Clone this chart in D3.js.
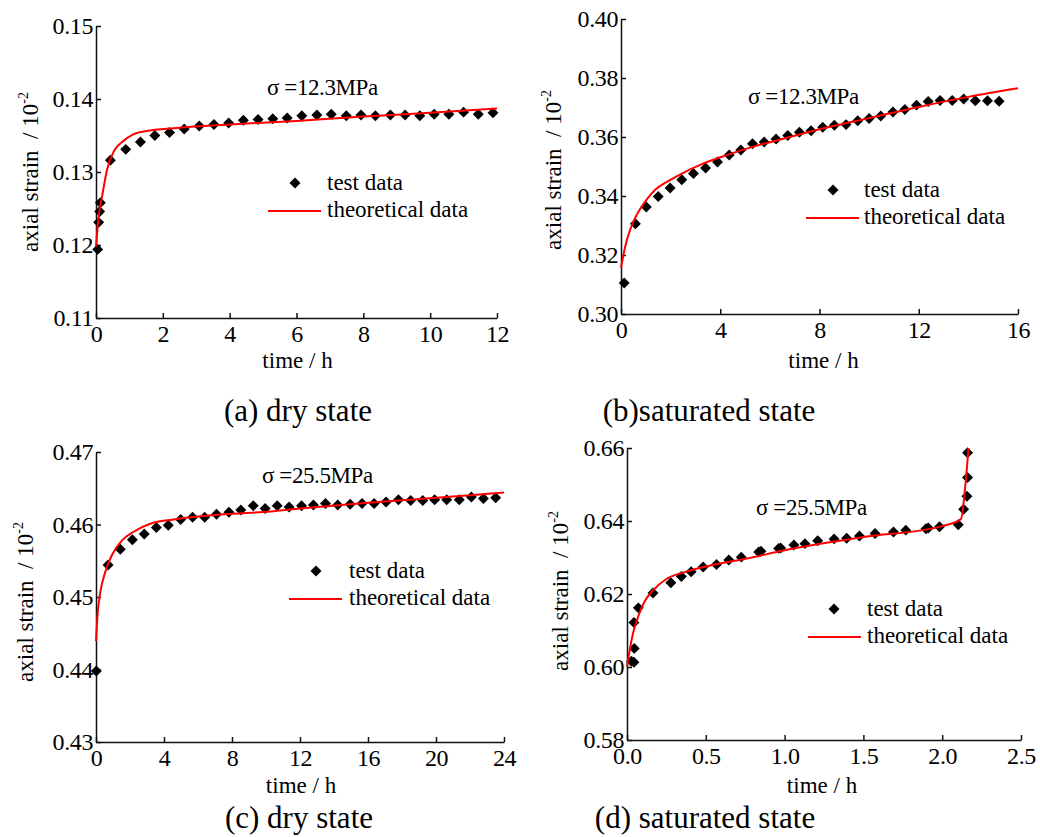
<!DOCTYPE html>
<html>
<head>
<meta charset="utf-8">
<script src="https://cdn.jsdelivr.net/npm/d3@7"></script>
<style>
body { margin: 0; background: #fff; }
</style>
</head>
<body>
<svg id="fig" width="1040" height="837"></svg>
<script>
// (a) dry state, 12.3MPa
var timeA = [0.05, 0.08, 0.11, 0.13, 0.43, 0.89, 1.33, 1.76, 2.20, 2.64, 3.09, 3.53, 3.97, 4.41, 4.85, 5.29, 5.72, 6.16, 6.61, 7.04, 7.49, 7.93, 8.36, 8.81, 9.25, 9.69, 10.12, 10.56, 11.00, 11.44, 11.88];
var strainA = [0.1194, 0.1231, 0.1246, 0.1258, 0.1316, 0.1331, 0.1341, 0.1350, 0.1354, 0.1359, 0.1363, 0.1365, 0.1367, 0.1371, 0.1372, 0.1373, 0.1374, 0.1377, 0.1378, 0.1379, 0.1377, 0.1378, 0.1377, 0.1378, 0.1378, 0.1377, 0.1379, 0.1379, 0.1382, 0.1379, 0.1381];
var fitTimeA = [0, 0.08, 0.18, 0.33, 0.53, 0.78, 1.13, 1.62, 2.32, 4.0, 6, 8, 10, 12];
var fitStrainA = [0.1198, 0.1239, 0.1266, 0.1303, 0.1328, 0.1341, 0.1352, 0.1357, 0.1360, 0.1365, 0.1370, 0.1376, 0.1381, 0.1387];
var xTicksA = [0, 2, 4, 6, 8, 10, 12];
var yTicksA = [0.11, 0.12, 0.13, 0.14, 0.15];

// (b) saturated state, 12.3MPa
var timeB = [0.13, 0.58, 1.02, 1.50, 1.98, 2.45, 2.92, 3.41, 3.89, 4.36, 4.83, 5.30, 5.77, 6.25, 6.72, 7.19, 7.66, 8.13, 8.60, 9.07, 9.54, 10.00, 10.47, 10.96, 11.44, 11.91, 12.38, 12.86, 13.35, 13.81, 14.28, 14.77, 15.24];
var strainB = [0.3105, 0.3306, 0.3363, 0.3398, 0.3427, 0.3455, 0.3476, 0.3495, 0.3515, 0.3539, 0.3556, 0.3577, 0.3583, 0.3593, 0.3605, 0.3616, 0.3621, 0.3633, 0.3640, 0.3642, 0.3655, 0.3663, 0.3671, 0.3685, 0.3693, 0.3708, 0.3720, 0.3724, 0.3724, 0.3729, 0.3723, 0.3723, 0.3721];
var fitTimeB = [0, 0.17, 0.37, 0.64, 0.98, 1.38, 1.92, 2.45, 3.26, 4.2, 5.4, 6.5, 8, 10, 12, 14, 16];
var fitStrainB = [0.3156, 0.3229, 0.3286, 0.3337, 0.3382, 0.3421, 0.3451, 0.3476, 0.3508, 0.3537, 0.3569, 0.3593, 0.3626, 0.3664, 0.3702, 0.3736, 0.3765];
var xTicksB = [0, 4, 8, 12, 16];
var yTicksB = [0.30, 0.32, 0.34, 0.36, 0.38, 0.40];

// (c) dry state, 25.5MPa
var timeC = [0.02, 0.71, 1.43, 2.14, 2.84, 3.55, 4.25, 4.98, 5.68, 6.39, 7.09, 7.82, 8.52, 9.25, 9.95, 10.66, 11.36, 12.09, 12.79, 13.50, 14.22, 14.95, 15.65, 16.36, 17.06, 17.79, 18.51, 19.22, 19.92, 20.63, 21.37, 22.08, 22.79, 23.51];
var strainC = [0.4398, 0.4544, 0.4566, 0.4579, 0.4587, 0.4596, 0.4599, 0.4607, 0.4610, 0.4610, 0.4614, 0.4617, 0.4620, 0.4626, 0.4622, 0.4626, 0.4624, 0.4626, 0.4627, 0.4629, 0.4627, 0.4628, 0.4629, 0.4629, 0.4631, 0.4634, 0.4633, 0.4633, 0.4634, 0.4634, 0.4634, 0.4638, 0.4636, 0.4637];
var fitTimeC = [0, 0.1, 0.25, 0.55, 0.94, 1.53, 2.21, 3.19, 4.56, 7.5, 10.25, 12, 16, 20, 24];
var fitStrainC = [0.4439, 0.4478, 0.4506, 0.4535, 0.4558, 0.4578, 0.4590, 0.4601, 0.4607, 0.4614, 0.4618, 0.4622, 0.4630, 0.4637, 0.4644];
var xTicksC = [0, 4, 8, 12, 16, 20, 24];
var yTicksC = [0.43, 0.44, 0.45, 0.46, 0.47];

// (d) saturated state, 25.5MPa
var timeD = [0.028, 0.044, 0.046, 0.044, 0.072, 0.165, 0.278, 0.345, 0.407, 0.483, 0.568, 0.646, 0.725, 0.836, 0.850, 0.962, 0.975, 1.059, 1.129, 1.210, 1.314, 1.394, 1.475, 1.574, 1.691, 1.769, 1.897, 1.912, 1.983, 2.102, 2.136, 2.157, 2.161, 2.161];
var strainD = [0.6016, 0.6013, 0.6051, 0.6122, 0.6162, 0.6203, 0.6231, 0.6248, 0.6261, 0.6274, 0.6281, 0.6293, 0.6301, 0.6315, 0.6317, 0.6325, 0.6326, 0.6334, 0.6338, 0.6346, 0.6351, 0.6353, 0.6359, 0.6366, 0.6370, 0.6375, 0.6379, 0.6381, 0.6384, 0.6390, 0.6432, 0.6468, 0.6519, 0.6587];
var fitTimeD = [0, 0.017, 0.038, 0.07, 0.11, 0.165, 0.25, 0.38, 0.55, 0.76, 1.0, 1.5, 2.0, 2.119, 2.146, 2.167];
var fitStrainD = [0.6001, 0.6046, 0.6092, 0.6137, 0.6178, 0.6210, 0.6241, 0.6262, 0.6280, 0.6297, 0.6320, 0.6356, 0.6386, 0.6405, 0.6493, 0.6600];
var xTicksD = [0, 0.5, 1.0, 1.5, 2.0, 2.5];
var yTicksD = [0.58, 0.60, 0.62, 0.64, 0.66];

var legendNames = ["test data", "theoretical data"];

var svg = d3.select("#fig")
	.attr("font-family", "Liberation Serif")
	.attr("fill", "#000");

// one panel; p holds the layout (pixel box + label spots)
function panel(p) {
	var g = svg.append("g");
	var x = d3.scaleLinear().domain(d3.extent(p.xTicks)).range([p.left, p.right]);
	var y = d3.scaleLinear().domain(d3.extent(p.yTicks)).range([p.bottom, p.top]);

	var xAxis = g.append("g")
		.attr("transform", "translate(0," + p.bottom + ")")
		.call(d3.axisBottom(x).tickValues(p.xTicks).tickFormat(d3.format(p.xFmt))
			.tickSizeInner(-5).tickSizeOuter(0).tickPadding(7));
	var yAxis = g.append("g")
		.attr("transform", "translate(" + p.left + ",0)")
		.call(d3.axisLeft(y).tickValues(p.yTicks).tickFormat(d3.format(".2f"))
			.tickSizeInner(-5).tickSizeOuter(0).tickPadding(3));
	[xAxis, yAxis].forEach(function(a) {
		a.attr("font-family", "Liberation Serif").attr("font-size", 24);
		a.select(".domain").attr("stroke", "#111").attr("stroke-width", 1.5);
		a.selectAll(".tick line").attr("stroke", "#111").attr("stroke-width", 1.5);
		a.selectAll(".tick text").attr("fill", "#000").attr("letter-spacing", "-0.4");
	});

	var diamond = d3.symbol().type(d3.symbolSquare).size(60);

	g.selectAll("path.pt")
		.data(d3.zip(p.time, p.strain))
	  .enter().append("path")
		.attr("class", "pt")
		.attr("d", diamond)
		.attr("transform", function(d) { return "translate(" + x(d[0]) + "," + y(d[1]) + ") rotate(45)"; })
		.attr("fill", "#000");

	var line = d3.line()
		.x(function(d) { return x(d[0]); })
		.y(function(d) { return y(d[1]); })
		.curve(d3.curveMonotoneX);
	g.append("path")
		.datum(d3.zip(p.fitTime, p.fitStrain))
		.attr("d", line)
		.attr("fill", "none")
		.attr("stroke", "#ff0000")
		.attr("stroke-width", 2);

	// stress label
	g.append("text")
		.attr("x", p.sigma[0]).attr("y", p.sigma[1])
		.attr("font-size", 23)
		.attr("letter-spacing", "-0.4")
		.text(p.sigmaText);

	// legend
	g.append("path")
		.attr("d", diamond)
		.attr("transform", "translate(" + p.leg[0] + "," + p.leg[1] + ") rotate(45)")
		.attr("fill", "#000");
	g.append("text")
		.attr("x", p.leg[2]).attr("y", p.leg[1] + 7)
		.attr("font-size", 23)
		.text(legendNames[0]);
	g.append("line")
		.attr("x1", p.leg[3]).attr("x2", p.leg[3] + 53)
		.attr("y1", p.leg[1] + 28).attr("y2", p.leg[1] + 28)
		.attr("stroke", "#ff0000").attr("stroke-width", 2);
	g.append("text")
		.attr("x", p.leg[2]).attr("y", p.leg[1] + 34)
		.attr("font-size", 23)
		.text(legendNames[1]);

	// axis titles
	g.append("text")
		.attr("x", (p.left + p.right) / 2 + p.xlab[0]).attr("y", p.xlab[1])
		.attr("text-anchor", "middle")
		.attr("font-size", 23)
		.text("time / h");

	var yl = g.append("text")
		.attr("transform", "translate(" + p.ylab[0] + "," + p.ylab[1] + ") rotate(-90)")
		.attr("text-anchor", "middle")
		.attr("font-size", 23)
		.attr("xml:space", "preserve")
		.style("white-space", "pre");
	yl.append("tspan").text("axial strain  / 10");
	yl.append("tspan").attr("dy", -10).attr("font-size", 14).text("-2");

	// caption
	g.append("text")
		.attr("x", p.cap[0]).attr("y", p.cap[1])
		.attr("text-anchor", "middle")
		.attr("font-size", 31)
		.text(p.capText);
}

panel({
	time: timeA, strain: strainA, fitTime: fitTimeA, fitStrain: fitStrainA,
	xTicks: xTicksA, yTicks: yTicksA, xFmt: "d",
	left: 96, right: 497, top: 26, bottom: 318,
	sigma: [267, 95], sigmaText: "\u03c3 =12.3MPa",
	leg: [295, 183, 327, 268],
	xlab: [1, 368], ylab: [38, 172],
	cap: [298, 421], capText: "(a) dry state"
});

panel({
	time: timeB, strain: strainB, fitTime: fitTimeB, fitStrain: fitStrainB,
	xTicks: xTicksB, yTicks: yTicksB, xFmt: "d",
	left: 621, right: 1018, top: 19, bottom: 314,
	sigma: [748, 104], sigmaText: "\u03c3 =12.3MPa",
	leg: [833, 190, 864, 806],
	xlab: [4, 368], ylab: [561, 170],
	cap: [709, 421], capText: "(b)saturated state"
});

panel({
	time: timeC, strain: strainC, fitTime: fitTimeC, fitStrain: fitStrainC,
	xTicks: xTicksC, yTicks: yTicksC, xFmt: "d",
	left: 96, right: 504, top: 452, bottom: 742,
	sigma: [262, 483], sigmaText: "\u03c3 =25.5MPa",
	leg: [316, 571, 349, 289],
	xlab: [1, 793], ylab: [33, 602],
	cap: [299, 828], capText: "(c) dry state"
});

panel({
	time: timeD, strain: strainD, fitTime: fitTimeD, fitStrain: fitStrainD,
	xTicks: xTicksD, yTicks: yTicksD, xFmt: ".1f",
	left: 627, right: 1021, top: 448, bottom: 740,
	sigma: [756, 515], sigmaText: "\u03c3 =25.5MPa",
	leg: [834, 609, 867, 808],
	xlab: [-2, 793], ylab: [568, 591],
	cap: [705, 828], capText: "(d) saturated state"
});
</script>
</body>
</html>
